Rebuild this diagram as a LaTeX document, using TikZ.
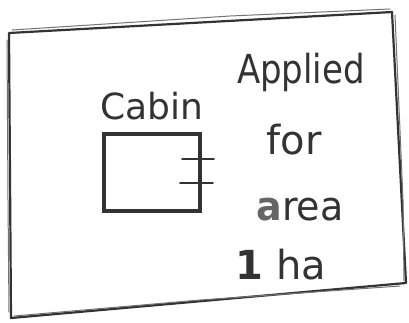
\documentclass[tikz,border=0pt]{standalone}
\usepackage{fontspec}
\setmainfont{DejaVu Sans}
\begin{document}
\begin{tikzpicture}[x=1pt,y=-1pt,
  pen/.style={draw=black!80,line width=2.2pt,line join=round,line cap=round},
  pen2/.style={draw=black!55,line width=1pt,line join=round,line cap=round},
  hand/.style={text=black!80,inner sep=0pt,font=\fontsize{40}{42}\selectfont},
  tickline/.style={draw=black!80,line width=1.8pt,line cap=round}]
\useasboundingbox (0,0) rectangle (409,322);
% outer sheet
\coordinate (tl) at (9,33);
\coordinate (tr) at (392,12);
\coordinate (br) at (406,283);
\coordinate (bl) at (11,318);
\draw[pen] (tl) -- (tr) -- (br) -- (bl) -- cycle;
\draw[pen2] (12,30) -- (230,16) -- (390,9);
\draw[pen2] (395,15) -- (403,200) -- (404,281);
\draw[pen2] (14,316) -- (200,300) -- (400,286);
\draw[pen2] (7,40) -- (8,200) -- (9,312);
% cabin
\node[hand,font=\fontsize{36}{38}\selectfont,xscale=1.0] (cab) at (152,106) {Cabin};
\node[draw=black!80,line width=4pt,minimum width=96pt,minimum height=77pt,inner sep=0pt] (box) at (152,172) {};
\coordinate (t1a) at (182,159);
\coordinate (t1b) at (214,159);
\coordinate (t2a) at (180,183);
\coordinate (t2b) at (213,183);
\draw[tickline] (t1a) -- (t1b);
\draw[tickline] (t2a) -- (t2b);
% text
\node[hand,xscale=0.85] (ap) at (301,72) {Applied};
\node[hand] (fo) at (294,140) {for};
\node[hand,xscale=0.95] (ar) at (300,210) {{\color{black!60}\bfseries a}rea};
\node[hand] (ha) at (281,265) {{\bfseries 1} ha};
\end{tikzpicture}
\end{document}
